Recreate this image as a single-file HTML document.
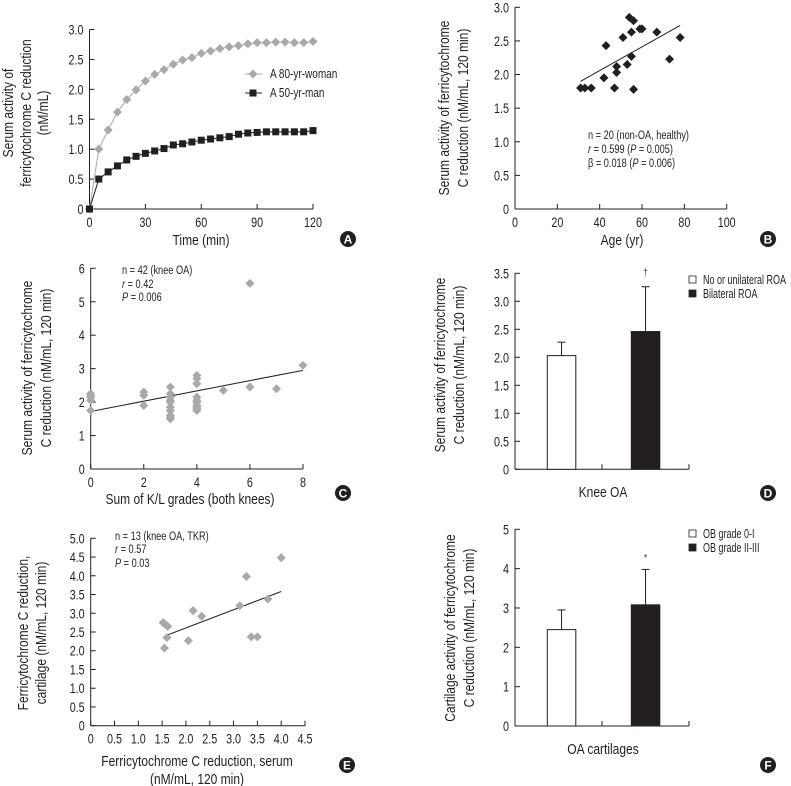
<!DOCTYPE html>
<html><head><meta charset="utf-8">
<style>
html,body{margin:0;padding:0;background:#fff;}
svg{display:block;font-family:"Liberation Sans Narrow","Liberation Sans",sans-serif;}
</style></head>
<body>
<svg id="fig" width="791" height="786" viewBox="0 0 791 786" xmlns="http://www.w3.org/2000/svg"></svg>
<script>
// ---- Panel A data
const aTimes=[0,5,10,15,20,25,30,35,40,45,50,55,60,65,70,75,80,85,90,95,100,105,110,115,120];
const aWoman=[0,1.0,1.32,1.62,1.83,1.99,2.14,2.25,2.33,2.42,2.49,2.53,2.6,2.64,2.68,2.71,2.73,2.76,2.78,2.78,2.79,2.79,2.78,2.78,2.8];
const aMan=[0,0.5,0.62,0.72,0.82,0.88,0.93,0.97,1.01,1.07,1.09,1.12,1.15,1.17,1.19,1.21,1.25,1.27,1.28,1.29,1.29,1.29,1.29,1.29,1.31];
const aXTicks=[0,30,60,90,120];
const aYTicks=[0,0.5,1.0,1.5,2.0,2.5,3.0];
// ---- Panel B data
const bAge=[31,33,36,42,43,47,48,48,51,53,54,55,55,56,56,59,60,67,73,78];
const bVal=[1.8,1.8,1.8,1.95,2.43,1.8,2.12,2.03,2.55,2.15,2.85,2.63,2.27,2.8,1.78,2.68,2.68,2.63,2.23,2.55];
const bFit=[[31,1.9],[78,2.73]];
const bXTicks=[0,20,40,60,80,100];
const bYTicks=[0,0.5,1.0,1.5,2.0,2.5,3.0];
// ---- Panel C data
const cGrade=[0,0,0,0,0,2,2,2,3,3,3,3,3,3,3,3,3,3,4,4,4,4,4,4,4,4,4,4,5,6,6,7,8];
const cVal=[2.25,2.15,2.05,1.75,2.2,2.3,2.2,1.9,2.45,2.25,2.15,2.05,1.85,1.75,1.6,1.55,1.5,2.0,2.8,2.7,2.55,2.15,2.0,1.9,1.85,1.8,1.75,2.05,2.35,5.55,2.45,2.4,3.1];
const cFit=[[0,1.72],[8,2.95]];
const cXTicks=[0,2,4,6,8];
const cYTicks=[0,1,2,3,4,5,6];
// ---- Panel D data
const dCats=["No or unilateral ROA","Bilateral ROA"];
const dMeans=[2.03,2.46];
const dErr=[2.27,3.26];
const dYTicks=[0,0.5,1.0,1.5,2.0,2.5,3.0,3.5];
// ---- Panel E data
const eSerum=[1.52,1.57,1.62,1.6,1.55,2.05,2.15,2.33,3.13,3.27,3.37,3.5,3.72,4.0];
const eCart=[2.75,2.7,2.65,2.35,2.07,2.27,3.07,2.92,3.2,3.98,2.37,2.37,3.38,4.48];
const eFit=[[1.57,2.4],[4.0,3.58]];
const eXTicks=[0,0.5,1.0,1.5,2.0,2.5,3.0,3.5,4.0,4.5];
const eYTicks=[0,0.5,1.0,1.5,2.0,2.5,3.0,3.5,4.0,4.5,5.0];
// ---- Panel F data
const fCats=["OB grade 0-I","OB grade II-III"];
const fMeans=[2.45,3.08];
const fErr=[2.95,3.98];
const fYTicks=[0,1,2,3,4,5];

const svg=document.getElementById('fig');
const NS="http://www.w3.org/2000/svg";
function mk(tag,attrs,parent){const e=document.createElementNS(NS,tag);for(const k in attrs)e.setAttribute(k,attrs[k]);(parent||svg).appendChild(e);return e;}
function txt(s,x,y,size,anchor,parent,extra){const t=mk('text',Object.assign({x:x,y:y,'font-size':size,'text-anchor':anchor||'middle',fill:'#231f20'},extra||{}),parent);t.textContent=s;return t;}
function scale(d0,d1,r0,r1){return v=>r0+(v-d0)/(d1-d0)*(r1-r0);}
function fmt(v,dec){return v===0?'0':v.toFixed(dec);}
function axes(g,x0,x1,y0,y1,yT,ys,ydec,xT,xs,xdec){
  mk('line',{x1:x0,y1:y0,x2:x0,y2:y1,stroke:'#231f20','stroke-width':1},g);
  mk('line',{x1:x0,y1:y0,x2:x1,y2:y0,stroke:'#231f20','stroke-width':1},g);
  yT.forEach(v=>{const y=ys(v);mk('line',{x1:x0,y1:y,x2:x0+5,y2:y,stroke:'#231f20'},g);
    const t=txt(fmt(v,ydec),x0-6,y+5,13.5,'end',g);
    
    });
  if(xT)xT.forEach(v=>{const x=xs(v);mk('line',{x1:x,y1:y0,x2:x,y2:y0-5,stroke:'#231f20'},g);
    const t=txt(fmt(v,xdec),x,y0+18,13.5,'middle',g);
    
    });
}
function ylabel(g,lines,xs,cy){lines.forEach((s,i)=>{const t=txt(s,xs[i],cy,15,'middle',g,{transform:'rotate(-90 '+xs[i]+' '+cy+')'});
  
  });}
function badge(g,L,cx,cy){mk('circle',{cx:cx,cy:cy,r:8,fill:'#231f20'},g);const t=txt(L,cx,cy+4.5,12,'middle',g,{fill:'#fff','font-weight':'bold','font-family':'Liberation Sans, sans-serif',class:'nc'});
  
  }
function diamond(g,x,y,r,fill){return mk('polygon',{points:`${x},${y-r} ${x+r},${y} ${x},${y+r} ${x-r},${y}`,fill:fill},g);}

// ===== Panel A
(function(){
const g=mk('g',{});
const xs=scale(0,120,89.5,313), ys=scale(0,3,209,29.5);
axes(g,89.5,313,209,29.5,aYTicks,ys,1,aXTicks,xs,0);
ylabel(g,["Serum activity of","ferricytochrome C reduction","(nM/mL)"],[13,31,48],113);
const t=txt("Time (min)",201,245,15,'middle',g);
mk('polyline',{points:aTimes.map((v,i)=>xs(v)+','+ys(aWoman[i])).join(' '),fill:'none',stroke:'#a7a9ac','stroke-width':1},g);
aTimes.forEach((v,i)=>{const d=diamond(g,xs(v),ys(aWoman[i]),4.5,'#a7a9ac');});
mk('polyline',{points:aTimes.map((v,i)=>xs(v)+','+ys(aMan[i])).join(' '),fill:'none',stroke:'#231f20','stroke-width':1},g);
aTimes.forEach((v,i)=>{const r=mk('rect',{x:xs(v)-3.5,y:ys(aMan[i])-3.5,width:7,height:7,fill:'#231f20'},g);});
const l1=mk('g',{},g);
mk('line',{x1:245,y1:74,x2:262,y2:74,stroke:'#a7a9ac'},l1);diamond(l1,253,74,4.5,'#a7a9ac');txt("A 80-yr-woman",270,78,12.5,'start',l1);
const l2=mk('g',{},g);
mk('line',{x1:245,y1:93,x2:262,y2:93,stroke:'#231f20'},l2);mk('rect',{x:249.5,y:89.5,width:7,height:7,fill:'#231f20'},l2);txt("A 50-yr-man",270,97,12.5,'start',l2);
badge(g,'A',348,239);
})();

// ===== Panel B
(function(){
const g=mk('g',{});
const xs=scale(0,100,515,726.7), ys=scale(0,3,209,7.3);
axes(g,515,726.7,209,7.3,bYTicks,ys,1,bXTicks,xs,0);
ylabel(g,["Serum activity of ferricytochrome","C reduction (nM/mL, 120 min)"],[449,468],108);
const t=txt("Age (yr)",622,245,15,'middle',g);
const fl=mk('line',{x1:xs(bFit[0][0]),y1:ys(bFit[0][1]),x2:xs(bFit[1][0]),y2:ys(bFit[1][1]),stroke:'#231f20'},g);
bAge.forEach((v,i)=>{const d=diamond(g,xs(v),ys(bVal[i]),4.5,'#231f20');});
const a=mk('g',{},g);
txt("n = 20 (non-OA, healthy)",588,139,11.5,'start',a);
const t2=txt("",588,153,11.5,'start',a);t2.innerHTML='<tspan font-style="italic">r</tspan> = 0.599 (<tspan font-style="italic">P</tspan> = 0.005)';
const t3=txt("",588,167,11.5,'start',a);t3.innerHTML='β = 0.018 (<tspan font-style="italic">P</tspan> = 0.006)';
badge(g,'B',768,239);
})();

// ===== Panel C
(function(){
const g=mk('g',{});
const xs=scale(0,8,90.7,303), ys=scale(0,6,469,268.3);
axes(g,90.7,303,469,268.3,cYTicks,ys,0,cXTicks,xs,0);
ylabel(g,["Serum activity of ferricytochrome","C reduction (nM/mL, 120 min)"],[32,51],368);
const t=txt("Sum of K/L grades (both knees)",190,504,15,'middle',g);
const fl=mk('line',{x1:xs(cFit[0][0]),y1:ys(cFit[0][1]),x2:xs(cFit[1][0]),y2:ys(cFit[1][1]),stroke:'#231f20'},g);
cGrade.forEach((v,i)=>{const d=diamond(g,xs(v),ys(cVal[i]),4.5,'#a7a9ac');});
const a=mk('g',{},g);
txt("n = 42 (knee OA)",122,274,11.5,'start',a);
const t2=txt("",122,288,11.5,'start',a);t2.innerHTML='<tspan font-style="italic">r</tspan> = 0.42';
const t3=txt("",122,301,11.5,'start',a);t3.innerHTML='<tspan font-style="italic">P</tspan> = 0.006';
badge(g,'C',343,493);
})();

// ===== Panel E
(function(){
const g=mk('g',{});
const xs=scale(0,4.5,90.7,305), ys=scale(0,5,725.7,538.3);
axes(g,90.7,305,725.7,538.3,eYTicks,ys,1,eXTicks,xs,1);
ylabel(g,["Ferricytochrome C reduction,","cartilage (nM/mL, 120 min)"],[28,46],633);
const t=txt("Ferricytochrome C reduction, serum",197,766,15,'middle',g);
const t1=txt("(nM/mL, 120 min)",197,784,15,'middle',g);
const fl=mk('line',{x1:xs(eFit[0][0]),y1:ys(eFit[0][1]),x2:xs(eFit[1][0]),y2:ys(eFit[1][1]),stroke:'#231f20'},g);
eSerum.forEach((v,i)=>{const d=diamond(g,xs(v),ys(eCart[i]),4.5,'#a7a9ac');});
const a=mk('g',{},g);
txt("n = 13 (knee OA, TKR)",115,540,11.5,'start',a);
const t2=txt("",115,553,11.5,'start',a);t2.innerHTML='<tspan font-style="italic">r</tspan> = 0.57';
const t3=txt("",115,567,11.5,'start',a);t3.innerHTML='<tspan font-style="italic">P</tspan> = 0.03';
badge(g,'E',347,765);
})();

// ===== Bar panels
function barPanel(name,L,cats,means,errs,yT,ydec,top,bottom,yMax,xTitle,xTitleY,ylab,ylx,lcy,marker,markerY,legY,badgeY){
const g=mk('g',{});
const ys=scale(0,yMax,bottom,top);
axes(g,515,689,bottom,top,yT,ys,ydec,null);
mk('line',{x1:602,y1:bottom,x2:602,y2:bottom-5,stroke:'#231f20'},g);
mk('line',{x1:689,y1:bottom,x2:689,y2:bottom-5,stroke:'#231f20'},g);
ylabel(g,ylab,ylx,lcy);
const t=txt(xTitle,603,xTitleY,15,'middle',g);
const bx=[547.3,631.3], bw=28.5, fills=['#fff','#231f20'];
means.forEach((m,i)=>{
  const cx=bx[i]+bw/2;
  const el=mk('line',{x1:cx,y1:ys(errs[i]),x2:cx,y2:ys(m),stroke:'#231f20'},g);
  const cap=mk('line',{x1:cx-4,y1:ys(errs[i]),x2:cx+4,y2:ys(errs[i]),stroke:'#231f20'},g);
  const r=mk('rect',{x:bx[i],y:ys(m),width:bw,height:bottom-ys(m),fill:fills[i],stroke:'#231f20','stroke-width':1},g);
});
const mk2=txt(marker,bx[1]+bw/2,markerY,10,'middle',g);
cats.forEach((c,i)=>{const lg=mk('g',{},g);
  mk('rect',{x:689,y:legY[i]-4,width:7,height:7,fill:fills[i],stroke:'#231f20','stroke-width':0.8},lg);
  txt(c,703,legY[i]+4,12.5,'start',lg,{class:'leg'});});
badge(g,L,768,badgeY);
}
barPanel('panel-d','D',dCats,dMeans,dErr,dYTicks,1,273.3,469.3,3.5,"Knee OA",497,["Serum activity of ferricytochrome","C reduction (nM/mL, 120 min)"],[445,464],365,'†',276,[280,294],493);
barPanel('panel-f','F',fCats,fMeans,fErr,fYTicks,0,529.3,726,5,"OA cartilages",754,["Cartilage activity of ferricytochrome","C reduction (nM/mL, 120 min)"],[455,474],628,'*',561,[534,548],765);

// condense text to mimic a narrow typeface
svg.querySelectorAll('text').forEach(t=>{
  const c=t.getAttribute('class');
  if(c==='nc')return;
  const f=c==='leg'?0.72:0.8;
  const l=t.getComputedTextLength();
  if(l>0){t.setAttribute('textLength',(l*f).toFixed(1));t.setAttribute('lengthAdjust','spacingAndGlyphs');}
});
</script>
</body></html>
